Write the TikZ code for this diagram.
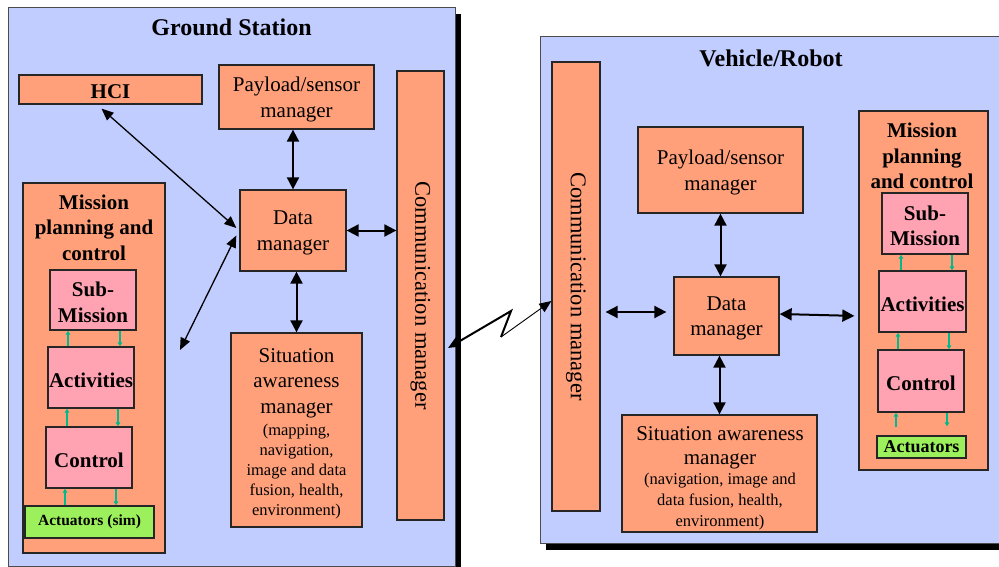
\documentclass[tikz,border=0pt]{standalone}
\usepackage{fontspec}
\setmainfont{Liberation Serif}
\usetikzlibrary{arrows.meta,calc}
\definecolor{frameblue}{RGB}{193,204,255}
\definecolor{salmon}{RGB}{255,160,122}
\definecolor{pinkbox}{RGB}{255,162,178}
\definecolor{limegreen}{RGB}{156,240,92}
\definecolor{tealarr}{RGB}{0,185,140}
% box with its text set slightly below the centre, as in the reference
\newcommand{\mybox}[7]{%
  \node[#2,minimum width={(#5-#3)*1pt},minimum height={(#6-#4)*1pt}] (#1) at ({(#3+#5)/2},{(#4+#6)/2}) {};
  \node[#2,draw=none,fill=none] (#1t) at ([yshift=-2.5pt]#1.center) {#7};}
% box with its text centred
\newcommand{\plainbox}[7]{%
  \node[#2,minimum width={(#5-#3)*1pt},minimum height={(#6-#4)*1pt}] (#1) at ({(#3+#5)/2},{(#4+#6)/2}) {#7};}
\begin{document}
\begin{tikzpicture}[x=1pt,y=-1pt,
  frame/.style={draw=black!70,line width=1pt,fill=frameblue,inner sep=0pt},
  obox/.style={draw=black!85,line width=1.3pt,fill=salmon,inner sep=0pt,align=center,font=\fontsize{21}{25.5}\selectfont},
  pbox/.style={draw=black!85,line width=1.3pt,fill=pinkbox,inner sep=0pt,align=center,font=\bfseries\fontsize{21}{25.5}\selectfont},
  gbox/.style={draw=black!85,line width=1.3pt,fill=limegreen,inner sep=0pt,font=\bfseries\fontsize{15.5}{18}\selectfont},
  ttl/.style={font=\bfseries\fontsize{24}{28}\selectfont,inner sep=0pt},
  arr/.style={line width=2pt,{Triangle[length=12pt,width=12pt]}-{Triangle[length=12pt,width=12pt]}},
  tarr/.style={line width=1.3pt,{Triangle[length=12pt,width=10pt]}-{Triangle[length=12pt,width=10pt]}},
  garr/.style={draw=tealarr,line width=1.6pt,-{Triangle[length=4pt,width=4.5pt]}},
]
\useasboundingbox (0,0) rectangle (999,567);
\clip (0,0) rectangle (999,567);
\fill[white] (0,0) rectangle (999,567);

% ---------------- Ground Station ----------------
\fill[black] (14,14) rectangle (461,590);
\plainbox{gs}{frame}{8}{8}{455}{566}{}
\node[ttl] (gst) at (231.5,27) {Ground Station};

\mybox{hci}{obox,font=\bfseries\fontsize{21}{25}\selectfont}{19}{75}{202}{104}{HCI}
\mybox{gpay}{obox}{219}{65}{374}{129}{Payload/sensor\\manager}
\plainbox{gcm}{obox}{397}{71}{444}{520}{}
\node[rotate=-90,font=\fontsize{22.5}{27}\selectfont,inner sep=0pt] (gcmt) at (gcm.center) {Communication manager};
\mybox{gdm}{obox}{240}{190}{346}{271}{Data\\manager}
\plainbox{gsa}{obox}{231}{333}{362}{527}{}
\node[align=center,font=\fontsize{21}{25.5}\selectfont,inner sep=0pt] (gsat) at (296.5,383) {Situation\\awareness\\manager};
\node[align=center,font=\fontsize{16.5}{20}\selectfont,inner sep=0pt] (gsas) at (296.5,472) {(mapping,\\navigation,\\image and data\\fusion, health,\\environment)};

\plainbox{gmp}{obox}{23}{183}{165}{553}{}
\node[align=center,font=\bfseries\fontsize{21}{25.5}\selectfont,inner sep=0pt] (gmpt) at (94,227.5) {Mission\\planning and\\control};
\mybox{gsm}{pbox}{50}{270}{136}{330}{Sub-\\Mission}
\mybox{gact}{pbox}{48}{347}{134}{408}{Activities}
\mybox{gctl}{pbox}{46}{427}{132}{488}{Control}
\plainbox{gactu}{gbox}{25}{506}{154}{538}{Actuators (sim)}

% ---------------- Vehicle / Robot ----------------
\fill[black] (546,43) rectangle (1020,550);
\plainbox{vr}{frame}{540}{37}{1014}{543}{}
\node[ttl] (vrt) at (771,58) {Vehicle/Robot};

\plainbox{vcm}{obox}{552}{62}{600}{511}{}
\node[rotate=-90,font=\fontsize{22.5}{27}\selectfont,inner sep=0pt] (vcmt) at (vcm.center) {Communication manager};
\mybox{vpay}{obox}{638}{127}{803}{213}{Payload/sensor\\manager}
\mybox{vdm}{obox}{674}{277}{779}{355}{Data\\manager}
\plainbox{vsa}{obox}{622}{415}{817}{532}{}
\node[align=center,font=\fontsize{21}{24}\selectfont,inner sep=0pt] (vsat) at (720,447.5) {Situation awareness\\manager};
\node[align=center,font=\fontsize{16.5}{21}\selectfont,inner sep=0pt] (vsas) at (720,502) {(navigation, image and\\data fusion, health,\\environment)};

\plainbox{vmp}{obox}{859}{111}{988}{470}{}
\node[align=center,font=\bfseries\fontsize{21}{25.5}\selectfont,inner sep=0pt] (vmpt) at (922,156) {Mission\\planning\\and control};
\mybox{vsm}{pbox}{882}{193}{968}{254}{Sub-\\Mission}
\mybox{vact}{pbox}{879}{271}{966}{332}{Activities}
\mybox{vctl}{pbox}{878}{350}{964}{412}{Control}
\plainbox{vactu}{gbox,font=\bfseries\fontsize{18}{20}\selectfont}{877}{436}{966}{458}{Actuators}

% ---------------- Connectors: Ground Station ----------------
\draw[arr] (gpay.south -| gdm.north) -- (gdm.north);
\draw[arr] (gdm.south -| gsa.north) -- (gsa.north);
\draw[arr] (gdm.east) -- (gdm.east -| gcm.west);
\draw[tarr] ([xshift=-9pt,yshift=-4pt]hci.south) -- ([xshift=-3pt,yshift=2.5pt]gdm.west);
\coordinate (gmpend) at (180,350);
\draw[tarr] ([xshift=-3pt,yshift=-5pt]gdm.west) -- (gmpend);

\draw[garr] (gact.north -| 68,0) -- (gsm.south -| 68,0);
\draw[garr] (gsm.south -| 120,0) -- (gact.north -| 120,0);
\draw[garr] (gctl.north -| 67,0) -- (gact.south -| 67,0);
\draw[garr] (gact.south -| 118,0) -- (gctl.north -| 118,0);
\draw[garr] (gactu.north -| 65,0) -- (gctl.south -| 65,0);
\draw[garr] (gctl.south -| 116,0) -- (gactu.north -| 116,0);

% ---------------- Radio link ----------------
\coordinate (z0) at (448,348);
\coordinate (z1) at (511,311);
\coordinate (z2) at (501,337);
\draw[line width=2pt,{Triangle[length=12pt,width=10pt]}-] (z0) -- (z1) -- (z2);
\draw[line width=0.9pt,-{Triangle[length=12pt,width=10pt]}] (z2) -- (vcm.west |- 0,301);

% ---------------- Connectors: Vehicle ----------------
\draw[arr,shorten <=5pt,shorten >=7pt] (vcm.east |- 0,312) -- (vdm.west |- 0,312);
\draw[arr] (vpay.south) -- (vpay.south |- vdm.north);
\draw[arr] (vsa.north |- vdm.south) -- (vsa.north);
\draw[arr,shorten >=4pt] ([yshift=2pt]vdm.east) -- (vmp.west |- 0,316);

\draw[garr] (vact.north -| 901,0) -- (vsm.south -| 901,0);
\draw[garr] (vsm.south -| 952,0) -- (vact.north -| 952,0);
\draw[garr] (vctl.north -| 898,0) -- (vact.south -| 898,0);
\draw[garr] (vact.south -| 949,0) -- (vctl.north -| 949,0);
\draw[garr,shorten <=8pt] (vactu.north -| 896,0) -- (vctl.south -| 896,0);
\draw[garr,shorten >=9pt] (vctl.south -| 947,0) -- (vactu.north -| 947,0);
\end{tikzpicture}
\end{document}
